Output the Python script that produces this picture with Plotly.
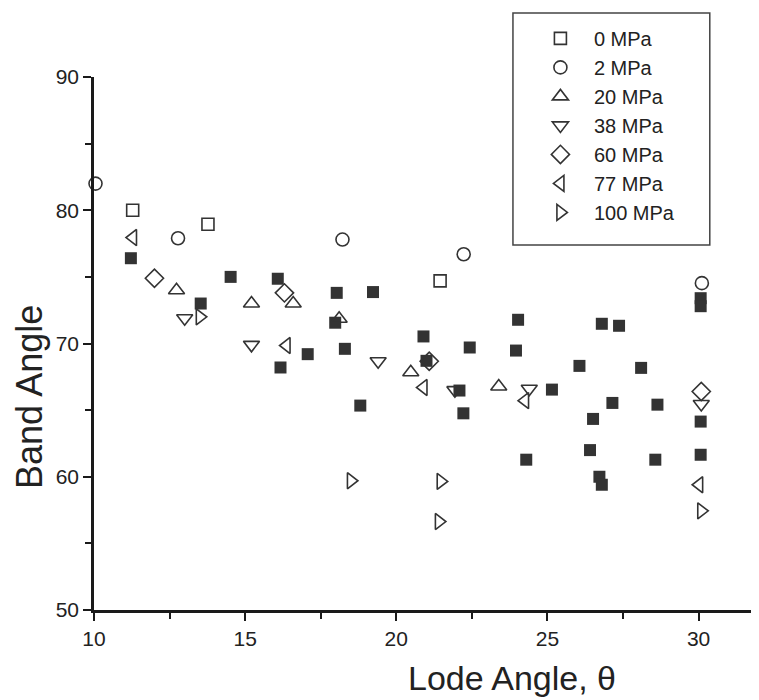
import plotly.graph_objects as go

# ---- data ----
p0_x = [11.28, 13.77, 21.45]
p0_y = [80.0, 78.95, 74.7]

p2_x = [10.05, 12.78, 18.22, 22.23, 30.11]
p2_y = [82.0, 77.9, 77.8, 76.7, 74.53]

p20_x = [12.73, 15.21, 16.59, 18.11, 20.48, 23.39]
p20_y = [74.0, 73.0, 73.0, 71.86, 67.84, 66.77]

p38_x = [13.0, 15.21, 19.4, 21.94, 24.4, 30.09]
p38_y = [71.9, 69.9, 68.67, 66.5, 66.6, 65.46]

p60_x = [12.0, 16.3, 21.09, 30.09]
p60_y = [74.9, 73.8, 68.67, 66.4]

p77_x = [11.29, 16.37, 20.9, 24.26, 30.02]
p77_y = [77.95, 69.85, 66.7, 65.71, 59.4]

p100_x = [13.5, 18.5, 21.47, 21.41, 30.09]
p100_y = [72.0, 59.7, 59.65, 56.64, 57.44]

filled_x = [11.22, 13.53, 14.52, 16.08, 16.17, 17.07, 18.03, 17.98, 18.3, 18.81,
            19.23, 20.9, 21.0, 22.09, 22.22, 22.43, 23.96, 24.03, 24.3, 25.15,
            26.06, 26.41, 26.51, 26.72, 26.8, 26.8, 27.15, 27.37, 28.1, 28.57,
            28.64, 30.07, 30.07, 30.07, 30.07]
filled_y = [76.4, 73.0, 75.0, 74.86, 68.2, 69.2, 73.8, 71.56, 69.6, 65.34,
            73.86, 70.53, 68.7, 66.47, 64.76, 69.7, 69.47, 71.78, 61.28, 66.54,
            68.32, 62.0, 64.34, 60.0, 59.4, 71.48, 65.54, 71.33, 68.17, 61.28,
            65.41, 73.4, 72.8, 64.14, 61.65]

x_ticks = [10, 15, 20, 25, 30]
y_ticks = [50, 60, 70, 80, 90]

x_title = "Lode Angle, θ"
y_title = "Band Angle"

series = [
    ("0 MPa", p0_x, p0_y, "square-open", 12),
    ("2 MPa", p2_x, p2_y, "circle-open", 13),
    ("20 MPa", p20_x, p20_y, "triangle-up-open", 14),
    ("38 MPa", p38_x, p38_y, "triangle-down-open", 14),
    ("60 MPa", p60_x, p60_y, "diamond-open", 14),
    ("77 MPa", p77_x, p77_y, "triangle-left-open", 14),
    ("100 MPa", p100_x, p100_y, "triangle-right-open", 14),
]

ink = "#333333"
axis_ink = "#1a1a1a"
text_ink = "#222222"
font_family = "Liberation Sans, Arial, sans-serif"

fig = go.Figure()

fig.add_trace(go.Scatter(
    x=filled_x, y=filled_y, mode="markers", showlegend=False,
    marker=dict(symbol="square", size=12, color=ink, line=dict(width=0)),
    cliponaxis=False,
))

for name, xs, ys, sym, sz in series:
    fig.add_trace(go.Scatter(
        x=xs, y=ys, mode="markers", name=name,
        marker=dict(symbol=sym, size=sz, color=ink, line=dict(width=1.6, color=ink)),
        cliponaxis=False,
    ))

axis_common = dict(
    showgrid=False, zeroline=False, showline=True, linecolor=axis_ink, linewidth=2.5,
    ticks="outside", ticklen=8, tickwidth=2, tickcolor=axis_ink,
    tickfont=dict(family=font_family, size=21, color=text_ink),
    mirror=False, automargin=False,
)

fig.update_layout(
    width=759, height=700,
    paper_bgcolor="white", plot_bgcolor="white",
    margin=dict(l=86, r=8, t=69, b=98),
    xaxis=dict(
        range=[10, 32], tickvals=x_ticks, ticktext=[str(v) for v in x_ticks],
        minor=dict(ticks="outside", ticklen=6, tickwidth=2, tickcolor=axis_ink, dtick=2.5, tick0=10),
        **axis_common,
    ),
    yaxis=dict(
        range=[50, 90], tickvals=y_ticks, ticktext=[str(v) for v in y_ticks],
        minor=dict(ticks="outside", ticklen=6, tickwidth=2, tickcolor=axis_ink, dtick=5, tick0=50),
        **axis_common,
    ),
    legend=dict(
        x=0.651, y=1.109, xanchor="left", yanchor="top",
        bgcolor="rgba(0,0,0,0)", borderwidth=0,
        font=dict(family=font_family, size=20, color=text_ink),
        itemwidth=57,
    ),
    shapes=[dict(
        type="rect", xref="paper", yref="paper",
        x0=0.630, x1=0.926, y0=0.685, y1=1.120,
        line=dict(color="#444444", width=1.5), fillcolor="white", layer="above",
    )],
    annotations=[
        dict(text=x_title, xref="paper", yref="paper", x=0.629, y=-0.128,
             xanchor="center", yanchor="middle", showarrow=False,
             font=dict(family=font_family, size=34, color=text_ink)),
        dict(text=y_title, xref="paper", yref="paper", x=-0.096, y=0.40,
             xanchor="center", yanchor="middle", showarrow=False, textangle=-90,
             font=dict(family=font_family, size=36, color=text_ink)),
    ],
)

fig.write_html("out.html")
